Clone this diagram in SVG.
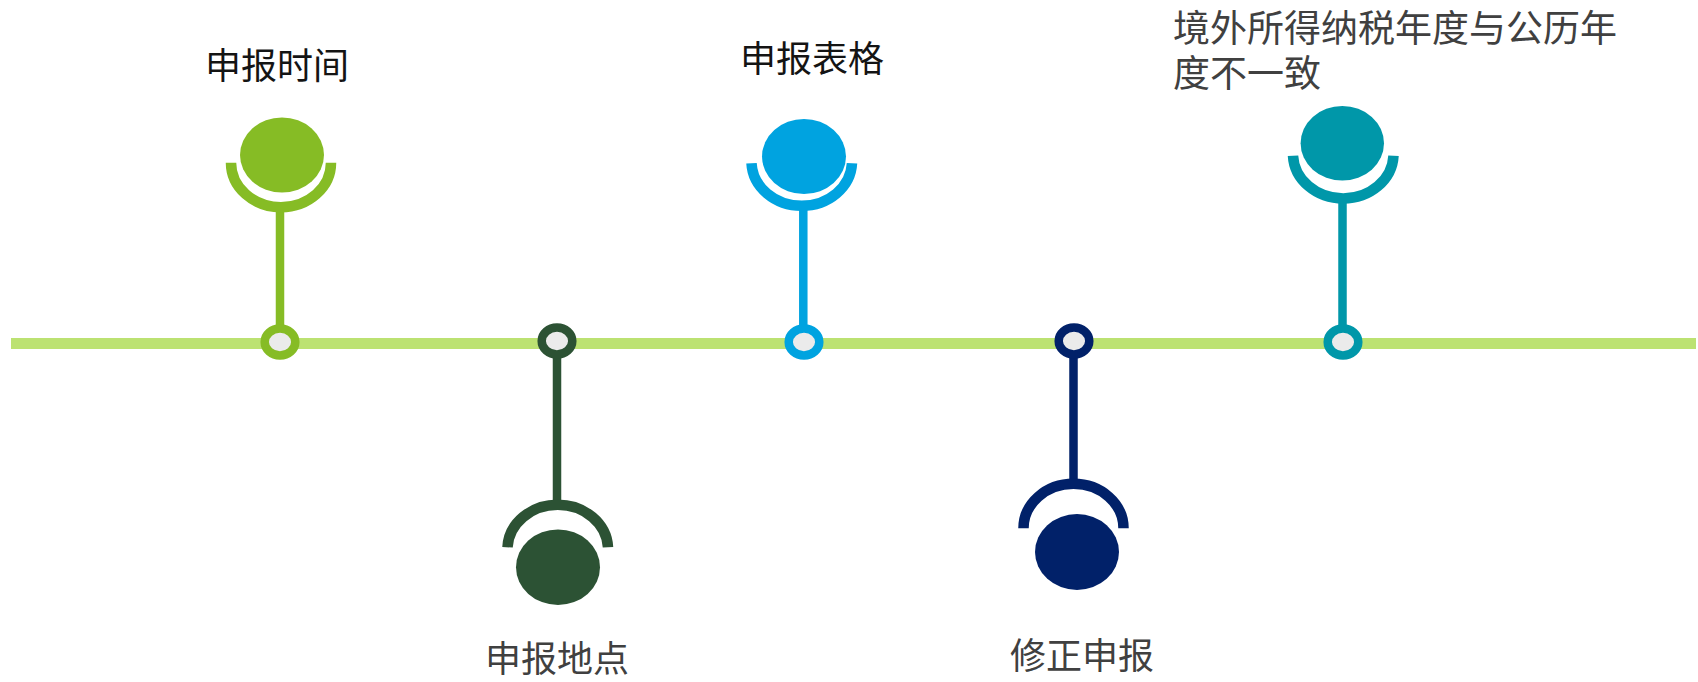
<svg xmlns="http://www.w3.org/2000/svg" width="1698" height="682" viewBox="0 0 1698 682">
<style>
.lbl{font-family:"Noto Sans CJK SC","Noto Sans",sans-serif;font-size:36px}
.dark{fill:#141414}
.gray{fill:#404040}
.arc{fill:none;stroke-width:10.5}
.stem{stroke-width:8.5}
.dot{fill:#ebebeb;stroke-width:8.5}
</style>
<rect width="1698" height="682" fill="#ffffff"/>
<g id="connectors">
<line x1="11" y1="343.5" x2="1696" y2="343.5" stroke="#bce272" stroke-width="11"/>
</g>
<g id="node1">
<line class="stem" x1="280" y1="207" x2="280" y2="330" stroke="#86bc25"/>
<path class="arc" d="M231 162.7 A50 44.5 0 0 0 331 162.7" stroke="#86bc25"/>
<ellipse cx="282" cy="155" rx="42" ry="37.5" fill="#86bc25"/>
<ellipse class="dot" cx="280" cy="342" rx="15.3" ry="13.5" stroke="#86bc25"/>
<text class="lbl dark" x="205" y="79">申报时间</text>
</g>
<g id="node2">
<line class="stem" x1="557" y1="355" x2="557" y2="505" stroke="#2c5234"/>
<path class="arc" d="M507.5 547.3 A50.3 44.5 0 0 1 608 547.3" stroke="#2c5234"/>
<ellipse cx="558" cy="567.2" rx="42" ry="37.8" fill="#2c5234"/>
<ellipse class="dot" cx="557" cy="341" rx="15.3" ry="13.5" stroke="#2c5234"/>
<text class="lbl gray" x="485" y="672">申报地点</text>
</g>
<g id="node3">
<line class="stem" x1="803.3" y1="207" x2="803.3" y2="330" stroke="#00a3e0"/>
<path class="arc" d="M751.5 163.3 A50.3 44.5 0 0 0 852 163.3" stroke="#00a3e0"/>
<ellipse cx="804" cy="156.5" rx="42" ry="37.5" fill="#00a3e0"/>
<ellipse class="dot" cx="804" cy="342" rx="15.3" ry="13.5" stroke="#00a3e0"/>
<text class="lbl dark" x="740" y="72">申报表格</text>
</g>
<g id="node4">
<line class="stem" x1="1073.5" y1="355" x2="1073.5" y2="486" stroke="#012169"/>
<path class="arc" d="M1023.5 528.3 A50 44.5 0 0 1 1123.5 528.3" stroke="#012169"/>
<ellipse cx="1077" cy="552" rx="42" ry="38" fill="#012169"/>
<ellipse class="dot" cx="1074" cy="341" rx="15.3" ry="13.5" stroke="#012169"/>
<text class="lbl gray" x="1010" y="669">修正申报</text>
</g>
<g id="node5">
<line class="stem" x1="1342.5" y1="200" x2="1342.5" y2="330" stroke="#0097a9"/>
<path class="arc" d="M1293 155.7 A50.3 44.8 0 0 0 1393.5 155.7" stroke="#0097a9"/>
<ellipse cx="1342.3" cy="143.3" rx="41.7" ry="37.3" fill="#0097a9"/>
<ellipse class="dot" cx="1343" cy="342" rx="15.3" ry="13.5" stroke="#0097a9"/>
<text class="lbl gray" style="font-size:37px"><tspan x="1173" y="42">境外所得纳税年度与公历年</tspan><tspan x="1173" y="87">度不一致</tspan></text>
</g>
</svg>
